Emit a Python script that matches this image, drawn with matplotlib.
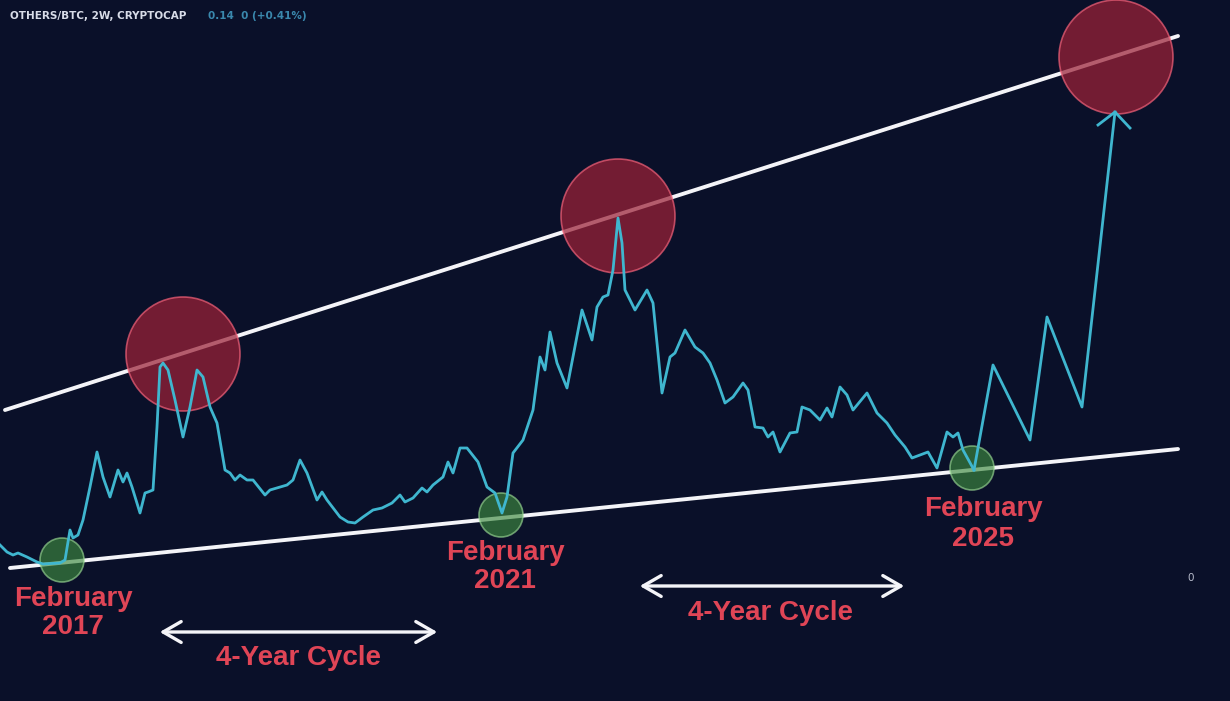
import numpy as np
import matplotlib.pyplot as plt
from matplotlib.patches import Circle

# chart units: x = time position, y = level (axis inverted like screen)
t = [0, 7, 13, 18, 27, 37, 43, 60, 65, 70, 73, 78, 83, 90, 97, 103, 110, 118, 123,
     127, 132, 140, 145, 148, 153, 157, 160, 163, 168, 175, 183, 190, 197, 203, 210,
     217, 225, 230, 235, 240, 247, 253, 265, 270, 280, 287, 293, 300, 307, 317, 322,
     327, 340, 348, 355, 363, 373, 382, 392, 400, 405, 413, 422, 427, 433, 443, 448,
     453, 460, 467, 478, 487, 495, 502, 507, 513, 523, 533, 540, 545, 550, 557, 567,
     573, 582, 592, 597, 603, 608, 613, 618, 622, 625, 635, 647, 653, 662, 670, 675,
     685, 695, 703, 710, 717, 725, 733, 743, 748, 755, 763, 768, 773, 780, 790, 797,
     802, 810, 820, 827, 832, 840, 847, 853, 867, 877, 887, 895, 905, 912, 920, 928,
     937, 947, 953, 958, 963, 974]
level = [545, 552, 555, 553, 557, 562, 564, 563, 560, 530, 538, 535, 520, 487, 452,
         477, 497, 470, 482, 473, 487, 513, 493, 492, 490, 427, 367, 363, 370, 400,
         437, 407, 370, 377, 407, 423, 470, 473, 480, 475, 480, 480, 495, 490, 487,
         485, 480, 460, 473, 500, 492, 500, 517, 522, 523, 517, 510, 508, 503, 495,
         502, 498, 488, 492, 485, 477, 462, 473, 448, 448, 462, 487, 493, 513, 497,
         453, 440, 410, 357, 370, 332, 363, 388, 357, 310, 340, 307, 297, 295, 270,
         218, 243, 290, 310, 290, 303, 393, 357, 353, 330, 347, 353, 363, 380, 403,
         397, 383, 390, 427, 428, 437, 432, 452, 433, 432, 407, 410, 420, 408, 417,
         387, 395, 410, 393, 413, 423, 435, 447, 458, 455, 452, 468, 432, 437, 433,
         450, 470]

# projected path after Feb 2025
proj_t = [974, 993, 1030, 1047, 1082, 1115]
proj_level = [470, 365, 440, 317, 407, 112]

# trend lines (start/end)
upper_t, upper_level = [5, 1178], [410, 36]
lower_t, lower_level = [10, 1178], [568, 449]

tops_t, tops_level = [183, 618, 1116], [354, 216, 57]
lows_t, lows_level = [62, 501, 972], [560, 515, 468]
low_labels = ["February\n2017", "February\n2021", "February\n2025"]
low_label_pos = [(73, 613), (505, 567), (983, 524)]
cycle_spans = [(157, 440, 632), (637, 907, 586)]
cycle_label_pos = [(298, 658), (770, 613)]

bg = "#0a1029"
cyan = "#3fb6cf"
red_txt = "#e04556"

fig = plt.figure(figsize=(12.30, 7.01), dpi=100, facecolor=bg)
ax = fig.add_axes([0, 0, 1, 1])
ax.set_facecolor(bg)
ax.set_xlim(0, 1230)
ax.set_ylim(701, 0)
ax.axis("off")

ax.plot(upper_t, upper_level, color="#f4f4f8", lw=2.8, solid_capstyle="round", zorder=2)
ax.plot(lower_t, lower_level, color="#f4f4f8", lw=2.8, solid_capstyle="round", zorder=2)

for x, y in zip(tops_t, tops_level):
    ax.add_patch(Circle((x, y), 57, facecolor="#9c2238", edgecolor="#f06078",
                        lw=1.2, alpha=0.72, zorder=3))
for x, y in zip(lows_t, lows_level):
    ax.add_patch(Circle((x, y), 22, facecolor="#3d8a3f", edgecolor="#9ad894",
                        lw=1.2, alpha=0.65, zorder=3))

ax.plot(t, level, color=cyan, lw=2.0, zorder=4)
ax.plot(proj_t, proj_level, color=cyan, lw=2.0, zorder=4)
# arrow head
ax.plot([1098, proj_t[-1], 1130], [125, proj_level[-1], 128], color=cyan, lw=2.0, zorder=4)

for txt, (x, y) in zip(low_labels, low_label_pos):
    ax.text(x, y, txt, color=red_txt, fontsize=20, fontweight="bold",
            family="Liberation Sans", ha="center", va="center", linespacing=1.15, zorder=5)

for (x0, x1, y), (lx, ly) in zip(cycle_spans, cycle_label_pos):
    ax.annotate("", xy=(x0, y), xytext=(x1, y),
                arrowprops=dict(arrowstyle="<->,head_length=1.3,head_width=0.75",
                                color="#f4f4f8", lw=2.4))
    ax.text(lx, ly, "4-Year Cycle", color=red_txt, fontsize=20, fontweight="bold",
            family="Liberation Sans", ha="center", va="center", zorder=5)

ax.text(10, 16, "OTHERS/BTC, 2W, CRYPTOCAP", color="#d8dce8", fontsize=7.5,
        fontweight="bold", va="center")
ax.text(208, 16, "0.14  0 (+0.41%)", color="#3a88ad", fontsize=7.5,
        fontweight="bold", va="center")
ax.text(1191, 578, "0", color="#b8bccc", fontsize=7.5, ha="center", va="center")

fig.savefig("out.png", dpi=100, facecolor=bg)
